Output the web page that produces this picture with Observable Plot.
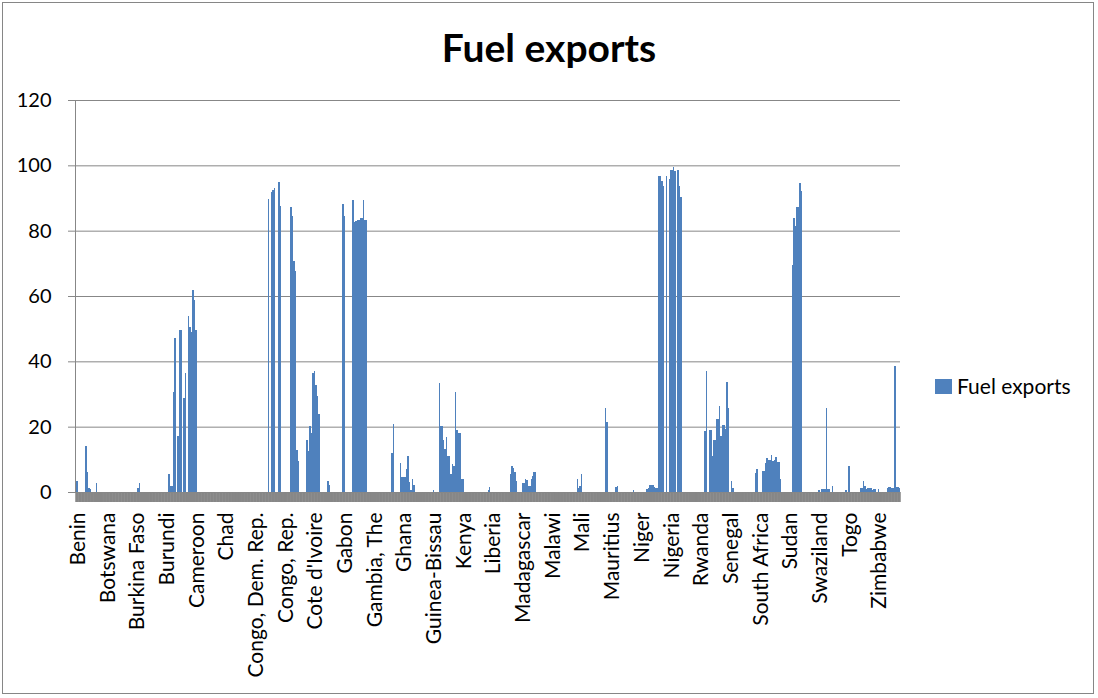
<!DOCTYPE html>
<html>
<head>
<meta charset="utf-8">
<title>Fuel exports</title>
<script src="https://cdn.jsdelivr.net/npm/d3@7"></script>
<script src="https://cdn.jsdelivr.net/npm/@observablehq/plot@0.6"></script>
<style>
  body { margin: 0; background: #fff; }
  #chart { position: relative; width: 1098px; height: 698px; background: #fff; font-family: Lato, "Open Sans", sans-serif; color: #000; overflow: hidden; }
  #chart .border { position: absolute; left: 2px; top: 2px; width: 1092px; height: 692px; border: 1px solid #868686; box-sizing: border-box; }
  #chart svg { position: absolute; left: 0; top: 0; }
  #chart .title { position: absolute; left: 0; top: 22px; width: 1098px; text-align: center; font-weight: bold; font-size: 39px; line-height: 50px; }
  #chart .legend { position: absolute; left: 935px; top: 373px; display: flex; align-items: center; font-size: 21px; line-height: 26px; }
  #chart .legend .swatch { width: 17px; height: 15px; background: #4f81bd; margin-right: 5px; }
</style>
</head>
<body>
<div id="chart">
  <div class="border"></div>
</div>
<script>
// Tick labels shown along the category axis (one every 20 rows).
const tickLabels = [
  "Benin", "Botswana", "Burkina Faso", "Burundi", "Cameroon", "Chad",
  "Congo, Dem. Rep.", "Congo, Rep.", "Cote d'Ivoire", "Gabon", "Gambia, The",
  "Ghana", "Guinea-Bissau", "Kenya", "Liberia", "Madagascar", "Malawi", "Mali",
  "Mauritius", "Niger", "Nigeria", "Rwanda", "Senegal", "South Africa", "Sudan",
  "Swaziland", "Togo", "Zimbabwe"
];
const rowsPerLabel = 20;

// Fuel exports (% of merchandise exports), one block of rows per tick label.
const fuelExports = [
  [4.0, 3.4, 0, 0, 0, 0, 0, 14.2, 6.0, 1.2, 0.8, 0, 0, 0, 2.8, 0, 0, 0, 0, 0],
  [0, 0, 0, 0, 0, 0, 0, 0, 0, 0, 0, 0, 0, 0, 0, 0, 0, 0, 0, 0],
  [0, 0, 1.3, 2.9, 0, 0, 0, 0, 0, 0, 0, 0, 0, 0, 0, 0, 0, 0, 0, 0],
  [0, 0, 0, 5.6, 1.8, 1.8, 30.6, 47.0, 0, 17.2, 49.7, 49.7, 0, 28.9, 36.3, 0, 53.8, 50.5, 49.0, 61.7],
  [58.8, 49.7, 0, 0, 0, 0, 0, 0, 0, 0, 0, 0, 0, 0, 0, 0, 0, 0, 0, 0],
  [0, 0, 0, 0, 0, 0, 0, 0, 0, 0, 0, 0, 0, 0, 0, 0, 0, 0, 0, 0],
  [0, 0, 0, 0, 0, 0, 0, 0, 0, 0, 89.8, 0, 91.9, 92.5, 93.1, 0, 0, 94.8, 87.7, 0],
  [0, 0, 0, 0, 0, 87.2, 84.4, 70.7, 67.6, 12.8, 9.4, 0, 0, 0, 0, 0, 16.0, 12.7, 20.1, 18.1],
  [36.4, 37.1, 32.9, 29.5, 24.0, 0, 0, 0, 0, 0, 3.5, 2.2, 0, 0, 0, 0, 0, 0, 0, 0],
  [88.3, 84.5, 0, 0, 0, 0, 0, 89.5, 82.8, 83.0, 83.2, 83.4, 83.9, 83.9, 89.5, 83.4, 83.4, 0, 0, 0],
  [0, 0, 0, 0, 0, 0, 0, 0, 0, 0, 0, 0, 0, 11.9, 20.8, 0, 0, 0, 0, 8.9],
  [4.5, 4.5, 4.5, 7.0, 10.9, 3.0, 0.7, 4.0, 2.2, 0, 0, 0, 0, 0, 0, 0, 0, 0, 0, 0],
  [0, 0.6, 0, 0, 0, 33.3, 20.1, 20.1, 16.0, 13.2, 16.8, 10.9, 10.9, 5.6, 8.6, 8.1, 30.5, 19.1, 18.1, 18.1],
  [4.0, 4.0, 0, 0, 0, 0, 0, 0, 0, 0, 0, 0, 0, 0, 0, 0, 0, 0, 0.7, 1.4],
  [0, 0, 0, 0, 0, 0, 0, 0, 0, 0, 0, 0, 0, 5.5, 7.9, 7.2, 6.0, 3.3, 0, 0],
  [0, 2.8, 2.8, 4.0, 3.6, 1.7, 1.7, 4.0, 5.0, 6.1, 6.1, 0, 0, 0, 0, 0, 0, 0, 0, 0],
  [0, 0, 0, 0, 0, 0, 0, 0, 0, 0, 0, 0, 0, 0, 0, 0, 0, 0, 4.0, 1.2],
  [1.9, 5.5, 0, 0, 0, 0, 0, 0, 0, 0, 0, 0, 0, 0, 0, 0, 0, 25.7, 21.4, 0],
  [0, 0, 0, 0, 1.4, 1.9, 0, 0, 0, 0, 0, 0, 0, 0, 0, 0, 0.5, 0, 0, 0],
  [0, 0, 0, 0, 0, 1.0, 1.2, 2.0, 2.2, 2.2, 1.5, 1.2, 1.2, 96.8, 96.8, 95.1, 93.6, 0, 96.8, 0],
  [95.8, 98.7, 98.7, 99.5, 98.4, 0, 98.5, 93.6, 90.3, 0, 0, 0, 0, 0, 0, 0, 0, 0, 0, 0],
  [0, 0, 0, 0, 18.6, 36.9, 0, 19.1, 19.1, 10.9, 15.9, 15.9, 22.2, 22.2, 26.2, 17.0, 20.6, 20.6, 19.3, 33.6],
  [25.7, 0, 3.4, 1.2, 0, 0, 0, 0, 0, 0, 0, 0, 0, 0, 0, 0, 0, 0, 5.8, 7.0],
  [0, 0, 0, 6.4, 6.4, 9.0, 10.4, 9.9, 9.9, 11.4, 9.4, 9.9, 10.6, 9.1, 9.1, 4.0, 0, 0, 0, 0],
  [0, 0, 0, 69.5, 83.9, 81.3, 87.1, 87.1, 94.6, 92.0, 0, 0, 0, 0, 0, 0, 0, 0, 0, 0],
  [0, 0.7, 0, 0.9, 0.9, 0.9, 25.7, 0.9, 0.9, 0, 1.7, 0, 0, 0, 0, 0, 0, 0, 0, 0.5],
  [0, 7.9, 0, 0, 0, 0, 0, 0, 0, 1.2, 1.2, 3.3, 1.7, 1.0, 1.2, 1.2, 1.2, 0.7, 1.0, 1.0],
  [0, 0.9, 0, 0, 0, 0, 0, 1.2, 1.5, 1.5, 1.2, 1.2, 38.7, 1.4, 1.4, 1.2]
];

const yTicks = [0, 20, 40, 60, 80, 100, 120];

// Flatten the blocks into one row per bar.
const rows = fuelExports.flatMap((block, g) =>
  block.map((value, j) => ({row: g * rowsPerLabel + j, value}))
);
const rowDomain = rows.map((d) => d.row);
const labelRows = tickLabels.map((_, g) => g * rowsPerLabel);
const labelOf = new Map(labelRows.map((r, g) => [r, tickLabels[g]]));

const axisGray = "#878787";

const chart = Plot.plot({
  width: 1098,
  height: 698,
  marginLeft: 75,
  marginRight: 198,
  marginTop: 100,
  marginBottom: 206,
  style: {fontFamily: "Lato, 'Open Sans', sans-serif", fontSize: "20px", color: "#000", background: "transparent", overflow: "visible"},
  x: {type: "band", domain: rowDomain, padding: 0, axis: null},
  y: {domain: [0, 120], axis: null},
  marks: [
    Plot.gridY(yTicks, {stroke: axisGray, strokeOpacity: 1, strokeWidth: 1}),
    Plot.barY(rows, {x: "row", y: "value", fill: "#4f81bd", inset: 0, shapeRendering: "crispEdges"}),
    Plot.axisY(yTicks, {label: null, tickSize: 7, tickPadding: 17, stroke: axisGray, strokeOpacity: 1, fontSize: 20}),
    Plot.axisX(rowDomain, {label: null, tickSize: 10, tickFormat: () => "", stroke: axisGray, strokeOpacity: 1, strokeWidth: 2}),
    Plot.axisX(labelRows, {label: null, tickSize: 0, tickPadding: 20, tickRotate: -90, dx: 2, tickFormat: (d) => labelOf.get(d), fontSize: 21}),
    Plot.frame({anchor: "left", stroke: axisGray, strokeOpacity: 1})
  ]
});

const root = document.getElementById("chart");
root.appendChild(chart);

const title = document.createElement("div");
title.className = "title";
title.textContent = "Fuel exports";
root.appendChild(title);

const legend = document.createElement("div");
legend.className = "legend";
legend.innerHTML = '<span class="swatch"></span><span>Fuel exports</span>';
root.appendChild(legend);
</script>
</body>
</html>
